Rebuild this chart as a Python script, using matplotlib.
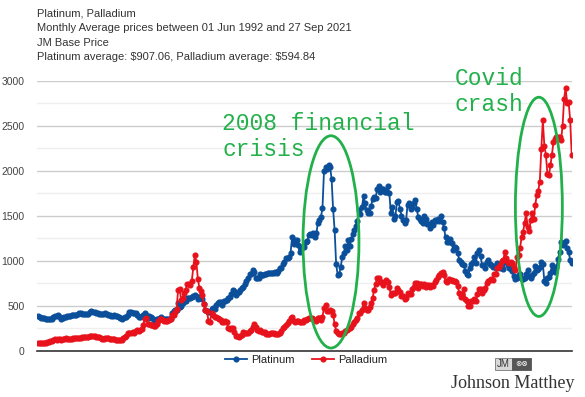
import matplotlib
matplotlib.use("Agg")
import matplotlib.pyplot as plt
from matplotlib.patches import Ellipse, Rectangle
from matplotlib.lines import Line2D
import numpy as np

# Monthly average prices, Jun 1992 .. Sep 2021 (one row per year)
platinum = [
    385, 378, 365, 362, 362, 358, 357,
    355, 358, 352, 375, 388, 392, 395, 375, 355, 362, 373, 380,
    388, 385, 385, 395, 398, 400, 405, 410, 420, 418, 410, 408,
    412, 415, 410, 432, 440, 436, 432, 420, 425, 415, 412, 410,
    412, 418, 410, 402, 400, 392, 390, 398, 385, 383, 378, 370,
    360, 362, 372, 380, 400, 430, 428, 420, 425, 418, 398, 380,
    372, 385, 395, 420, 405, 370, 385, 375, 368, 345, 345, 350,
    355, 365, 372, 360, 355, 358, 352, 358, 370, 420, 445, 455,
    450, 530, 490, 500, 530, 555, 560, 585, 590, 585, 595, 610,
    620, 605, 580, 590, 610, 575, 525, 458, 445, 435, 428, 465,
    480, 470, 515, 538, 540, 548, 515, 550, 560, 570, 585, 595,
    630, 682, 670, 625, 645, 660, 680, 695, 705, 745, 775, 810,
    850, 855, 895, 880, 815, 810, 810, 850, 845, 840, 855, 855,
    865, 865, 868, 870, 868, 880, 870, 890, 920, 925, 965, 985,
    1030, 1035, 1040, 1085, 1265, 1190, 1235, 1235, 1175, 1095, 1135, 1160,
    1150, 1215, 1225, 1290, 1300, 1290, 1310, 1265, 1310, 1420, 1450, 1490,
    1585, 1995, 2040, 2025, 2065, 2045, 1910, 1575, 1340, 965, 845, 850,
    935, 1040, 1085, 1165, 1125, 1230, 1165, 1245, 1295, 1340, 1390, 1445,
    1565, 1515, 1600, 1715, 1640, 1560, 1530, 1530, 1610, 1690, 1705, 1700,
    1800, 1830, 1770, 1800, 1800, 1770, 1760, 1830, 1750, 1535, 1600, 1460,
    1500, 1650, 1660, 1580, 1500, 1455, 1420, 1450, 1625, 1645, 1580, 1595,
    1640, 1680, 1580, 1490, 1465, 1440, 1420, 1500, 1465, 1410, 1410, 1360,
    1430, 1395, 1450, 1440, 1460, 1440, 1500, 1430, 1365, 1260, 1210, 1215,
    1245, 1195, 1125, 1150, 1140, 1090, 1005, 990, 965, 960, 885, 860,
    840, 920, 965, 985, 1040, 980, 1090, 1120, 1050, 960, 950, 920,
    985, 1010, 965, 955, 935, 940, 920, 975, 960, 920, 930, 905,
    995, 990, 950, 925, 905, 890, 835, 800, 810, 840, 855, 795,
    800, 810, 850, 895, 835, 810, 845, 865, 940, 895, 905, 930,
    985, 965, 780, 755, 810, 820, 865, 950, 900, 875, 930, 1025,
    1095, 1215, 1175, 1200, 1220, 1140, 1100, 1010, 975,
]

palladium = [
    90, 88, 85, 84, 88, 94, 100,
    105, 108, 112, 122, 128, 124, 130, 128, 124, 130, 138, 140,
    132, 132, 135, 136, 140, 140, 140, 142, 142, 145, 150, 155,
    160, 156, 155, 165, 165, 165, 168, 160, 155, 150, 142, 136,
    135, 140, 140, 140, 138, 135, 130, 130, 125, 120, 118, 118,
    125, 140, 155, 165, 195, 195, 195, 210, 200, 220, 230, 225,
    235, 245, 285, 355, 370, 300, 305, 290, 285, 275, 280, 295,
    330, 350, 355, 345, 330, 335, 335, 345, 360, 400, 405, 430,
    465, 680, 690, 565, 590, 640, 680, 745, 740, 730, 775, 930,
    1065, 990, 800, 700, 670, 620, 520, 450, 440, 335, 325, 420,
    405, 380, 375, 370, 360, 340, 325, 320, 330, 320, 255, 240,
    250, 255, 215, 165, 165, 160, 165, 180, 210, 200, 195, 200,
    220, 235, 270, 295, 270, 235, 220, 230, 215, 215, 215, 190,
    185, 185, 195, 200, 195, 185, 185, 185, 195, 220, 250, 270,
    290, 310, 330, 370, 380, 330, 320, 330, 330, 320, 325, 325,
    340, 345, 350, 370, 365, 370, 360, 340, 330, 365, 365, 345,
    380, 480, 515, 445, 440, 455, 445, 405, 300, 220, 200, 185,
    185, 205, 200, 225, 230, 245, 250, 270, 295, 320, 340, 370,
    420, 420, 460, 530, 480, 460, 455, 490, 530, 590, 680, 745,
    805, 815, 770, 770, 730, 770, 790, 770, 710, 620, 640, 640,
    640, 700, 680, 650, 615, 610, 580, 585, 640, 630, 630, 690,
    710, 750, 760, 700, 740, 740, 720, 740, 710, 730, 730, 710,
    730, 720, 770, 790, 820, 840, 870, 880, 840, 780, 770, 800,
    790, 790, 780, 780, 770, 720, 640, 600, 630, 690, 580, 550,
    500, 500, 560, 560, 580, 550, 630, 690, 690, 640, 680, 700,
    750, 780, 790, 800, 790, 860, 850, 920, 930, 960, 1000, 1010,
    1100, 1030, 990, 980, 990, 980, 930, 900, 1040, 1070, 1140, 1260,
    1320, 1420, 1530, 1380, 1330, 1450, 1530, 1460, 1620, 1730, 1780, 1880,
    2240, 2560, 2280, 2180, 1970, 1950, 2060, 2180, 2320, 2350, 2370, 2380,
    2370, 2340, 2500, 2800, 2920, 2750, 2760, 2560, 2180,
]

months = np.arange(len(platinum))  # month index from Jun 1992
yticks = [0, 500, 1000, 1500, 2000, 2500, 3000]
title_lines = [
    "Platinum, Palladium",
    "Monthly Average prices between 01 Jun 1992 and 27 Sep 2021",
    "JM Base Price",
    "Platinum average: \\$907.06, Palladium average: \\$594.84",
]

PT = "#0b4f9a"
PD = "#e8121c"
GREEN = "#22b04b"

plt.rcParams['font.family'] = ['Liberation Sans', 'DejaVu Sans']

fig = plt.figure(figsize=(5.85, 3.97), dpi=100)
W, H = 585, 397
ax = fig.add_axes([37 / W, (H - 351) / H, (572 - 37) / W, (351 - 80.7) / H])

ax.set_ylim(0, 3000)
ax.set_xlim(-0.85, len(platinum) - 1 + 0.2)

for v in np.arange(250, 3000, 500):
    ax.axhline(v, color="#efefef", lw=1, zorder=0)
for v in yticks[1:]:
    ax.axhline(v, color="#cccccc", lw=1, zorder=0)

ax.plot(months, platinum, color=PT, lw=1.3, marker='o', ms=3.4, zorder=3)
ax.plot(months, palladium, color=PD, lw=1.3, marker='o', ms=3.4, zorder=4)

ax.set_yticks(yticks)
ax.set_yticklabels([str(v) for v in yticks], fontsize=7.5, color="#444444")
ax.tick_params(axis='y', length=0, pad=9)
ax.set_xticks([])
for s in ['top', 'right', 'left']:
    ax.spines[s].set_visible(False)
ax.spines['bottom'].set_color('#333333')
ax.spines['bottom'].set_linewidth(1.2)

# annotations
ax.add_patch(Ellipse((192.6, 1211), 36.8, 2356, fill=False, ec=GREEN, lw=2, zorder=5))
ax.add_patch(Ellipse((329.4, 1600), 30.9, 2433, fill=False, ec=GREEN, lw=2, zorder=5))
fig.text(222 / W, 1 - 136.5 / H, "2008 financial\ncrisis", family="Liberation Mono",
         fontsize=16.5, color=GREEN, va='center', ha='left', linespacing=1.2)
fig.text(455 / W, 1 - 91.5 / H, "Covid\ncrash", family="Liberation Mono",
         fontsize=16.5, color=GREEN, va='center', ha='left', linespacing=1.2)

# title block
for k, line in enumerate(title_lines):
    fig.text(37 / W, 1 - (13 + 14.8 * k) / H, line, fontsize=8, color="#333333",
             va='center', ha='left')

# legend
handles = [Line2D([], [], color=PT, lw=1.3, marker='o', ms=3.4),
           Line2D([], [], color=PD, lw=1.3, marker='o', ms=3.4)]
fig.legend(handles, ["Platinum", "Palladium"], loc='center',
           bbox_to_anchor=(306 / W, 1 - 360 / H), ncol=2, frameon=False,
           fontsize=8, handlelength=2.0, handletextpad=0.3, columnspacing=1.6,
           labelcolor="#222222")

# Johnson Matthey logo
fig.patches.append(Rectangle((495 / W, 1 - 369.5 / H), 17 / W, 11.5 / H,
                             transform=fig.transFigure, fc="#d9d9d9", ec="#777777", lw=0.6))
fig.patches.append(Rectangle((512 / W, 1 - 369.5 / H), 18.5 / W, 11.5 / H,
                             transform=fig.transFigure, fc="#555555", ec="#555555", lw=0.6))
fig.text(503.5 / W, 1 - 363.8 / H, "JM", fontsize=7, color="#333333", ha='center', va='center')
fig.text(521.2 / W, 1 - 363.8 / H, "\u2297\u2297", fontsize=5.5, color="white",
         ha='center', va='center', family="DejaVu Sans")
fig.text(513 / W, 1 - 383 / H, "Johnson Matthey", family="Liberation Serif",
         fontsize=13, color="#333333", ha='center', va='center')

fig.savefig("out.png", dpi=100)
